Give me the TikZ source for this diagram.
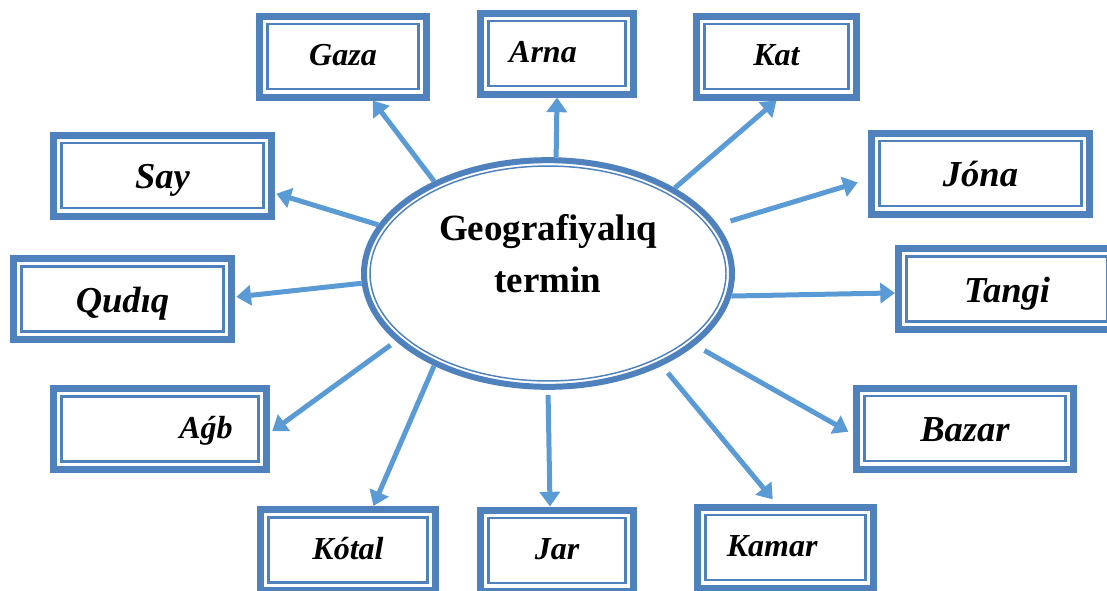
\documentclass[tikz,border=0pt]{standalone}
\usepackage{fontspec}
\setmainfont{Liberation Serif}
\usetikzlibrary{arrows.meta,shapes.geometric}
\definecolor{boxblue}{HTML}{4F81BD}
\definecolor{arrowblue}{HTML}{5B9BD5}
\tikzset{
  centre/.style    = {ellipse, draw=boxblue, line width=4.5pt, inner sep=0pt,
                      minimum width=276pt, minimum height=170pt},
  geo text/.style  = {align=center, font=\fontsize{27.75}{39}\selectfont\bfseries},
  word box/.style  = {rectangle, draw=boxblue, line width=5.25pt, inner sep=0pt,
                      minimum height=60.75pt},
  short box/.style = {word box, font=\fontsize{24}{28}\selectfont\bfseries\itshape,
                      text height=17pt, text depth=3.5pt},
  long box/.style  = {word box, font=\fontsize{27.4}{32}\selectfont\bfseries\itshape,
                      text height=20.5pt, text depth=0.3pt, minimum width=163.5pt},
  inner line/.style = {draw=boxblue, line width=1.9pt},
  link/.style      = {draw=arrowblue, line width=3.75pt}
}
\begin{document}
\begin{tikzpicture}[x=0.75pt, y=-0.75pt,
  >={Triangle[width=15pt,length=11pt]}]
\useasboundingbox (0,0) rectangle (1107,590);

% the term in the middle
\node[centre] (geo) at (548,273.5) {};
\draw[boxblue, line width=1.1pt] (geo) ellipse [x radius=133.5pt, y radius=80.6pt];
\node[geo text] (ttl) at ([yshift=15pt]geo.center) {Geografiyalıq\\termin};

% the words round it
\node[short box, minimum width=125.25pt] (gaza) at (343,56.5) {Gaza};
\node[short box, minimum width=114.75pt] (arna) at (557,53.5) {Arna\hspace*{21pt}};
\node[short box, minimum width=120pt] (kat) at (776.5,56.5) {Kat};
\node[long box] (say) at (162.5,175.5) {Say};
\node[long box] (jona) at (980.5,173.5) {Jóna};
\node[long box] (qudiq) at (122.5,299) {Qudıq};
\node[long box, minimum width=162.75pt] (tangi) at (1007,289) {Tangi};
\node[short box, minimum width=159.75pt] (agb) at (160,429) {\hspace*{69pt}Aǵb};
\node[long box, minimum width=162.75pt] (bazar) at (965,428.5) {Bazar};
\node[short box, minimum width=131.25pt] (kotal) at (348,550) {Kótal};
\node[short box, minimum width=114.75pt] (jar) at (557,550.5) {Jar};
\node[short box, minimum width=132pt] (kamar) at (785.5,547.5) {Kamar\hspace*{20pt}};

% thin second line inside every box
\foreach \n in {gaza,arna,kat,say,jona,qudiq,tangi,agb,bazar,kotal,jar,kamar}
  \draw[inner line] ([shift={(8.5pt,-8.5pt)}]\n.north west)
    rectangle ([shift={(-8.5pt,8.5pt)}]\n.south east);

% arrows from the ellipse to each word
\foreach \a/\n/\b/\s/\e in {141/gaza/-56/0pt/0pt, 86/arna/-90/0pt/0pt,
    34/kat/-90/0pt/0pt, 16/jona/183/10pt/8pt, -7/tangi/182/0pt/0pt,
    -26/bazar/183/8pt/4pt, -39/kamar/102/7pt/4pt, -90/jar/99/4pt/0pt,
    -141/kotal/60/0pt/0pt, 204/agb/-2/5pt/2pt, 183/qudiq/1/0pt/1pt,
    164/say/-9/0pt/1pt}
  \draw[link, ->, shorten <=\s, shorten >=\e] (geo.\a) -- (\n.\b);
\end{tikzpicture}
\end{document}
